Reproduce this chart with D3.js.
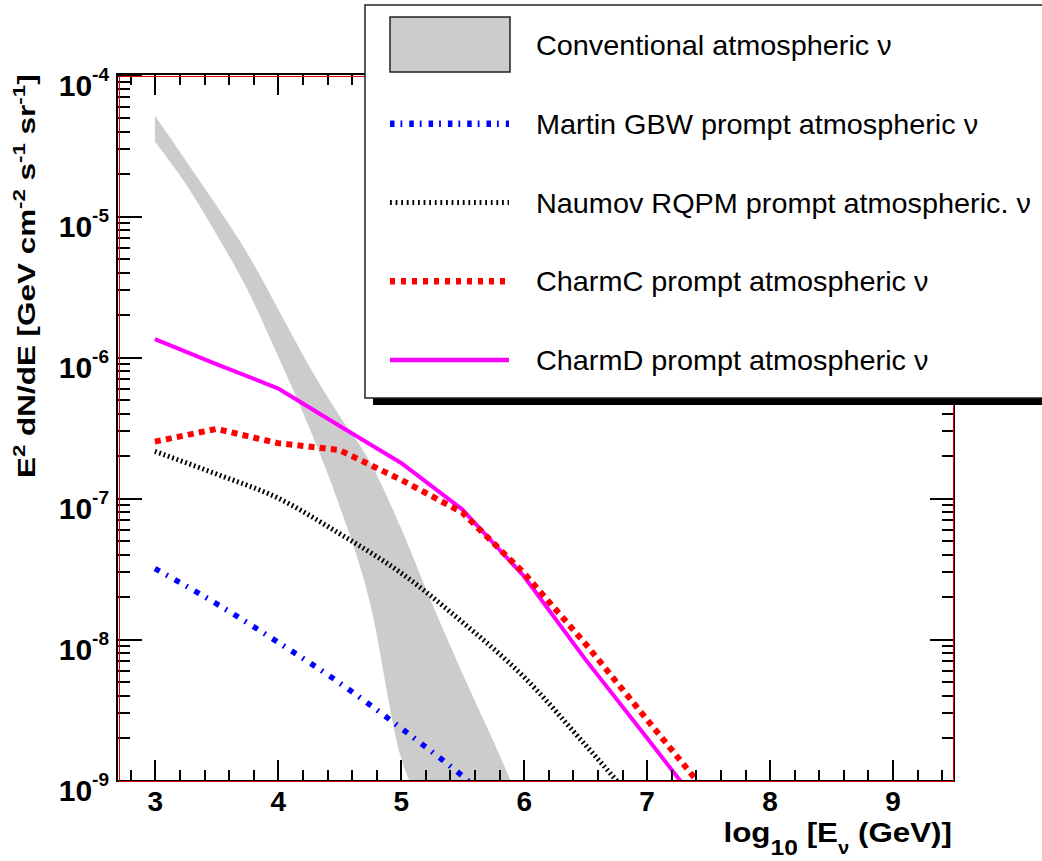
<!DOCTYPE html>
<html>
<head>
<meta charset="utf-8">
<script src="https://cdn.jsdelivr.net/npm/d3@7"></script>
<style>
  html, body { margin: 0; padding: 0; background: #fff; }
  svg { display: block; }
  text { font-family: "Liberation Sans", Arial, Helvetica, sans-serif; white-space: pre; }
  .axes line { shape-rendering: crispEdges; }
</style>
</head>
<body>
<svg id="chart" width="1042" height="861"></svg>
<script>
// Energy grid (log10 E / GeV) for the conventional band edges
const convEnergy = [3.0, 3.25, 3.5, 3.75, 4.0, 4.25, 4.5, 4.75, 5.0, 5.25, 5.5, 5.75, 6.0];
const convUpper  = [5.16e-5, 2.49e-5, 1.19e-5, 5.47e-6, 2.21e-6, 8.77e-7, 3.84e-7, 1.80e-7, 6.17e-8, 1.82e-8, 5.75e-9, 1.91e-9, 6.0e-10];
const convLower  = [3.37e-5, 1.69e-5, 7.43e-6, 3.03e-6, 1.02e-6, 3.24e-7, 8.87e-8, 1.80e-8, 1.46e-9, 5.6e-10, 2.5e-10, 1.1e-10, 5.0e-11];

// Energy grid (log10 E / GeV) for the prompt flux models
const promptEnergy = [3.0, 3.5, 4.0, 4.5, 5.0, 5.5, 6.0, 6.5, 7.0, 7.5];
const martinGBW   = [3.16e-8, 1.78e-8, 9.5e-9, 4.9e-9, 2.34e-9, 1.07e-9, 4.5e-10];
const naumovRQPM  = [2.14e-7, 1.48e-7, 1.0e-7, 5.6e-8, 2.95e-8, 1.32e-8, 5.4e-9, 1.78e-9, 5.6e-10];
const charmC      = [2.51e-7, 3.09e-7, 2.45e-7, 2.19e-7, 1.35e-7, 7.9e-8, 2.95e-8, 9.3e-9, 2.7e-9, 7.9e-10];
const charmD      = [1.34e-6, 8.9e-7, 6.0e-7, 3.25e-7, 1.78e-7, 8.3e-8, 2.8e-8, 7.2e-9, 2.0e-9, 5.5e-10];

// Axis ticks and labels
const xTickValues = [3, 4, 5, 6, 7, 8, 9];
const xTickLabels = ["3", "4", "5", "6", "7", "8", "9"];
const yTickValues = [1e-4, 1e-5, 1e-6, 1e-7, 1e-8, 1e-9];
const yTickExponents = ["-4", "-5", "-6", "-7", "-8", "-9"];

const legendLabels = [
  "Conventional atmospheric \u03bd",
  "Martin GBW prompt atmospheric \u03bd",
  "Naumov RQPM prompt atmospheric. \u03bd",
  "CharmC prompt atmospheric \u03bd",
  "CharmD prompt atmospheric \u03bd"
];

const svg = d3.select("#chart");
const frameL = 118, frameR = 954, frameT = 75, frameB = 780;

const x = d3.scaleLinear().domain([2.7, 9.5]).range([frameL, frameR]);
const y = d3.scaleLog().domain([1e-9, 1e-4]).range([frameB, frameT]);

svg.append("defs").append("clipPath").attr("id", "plotClip")
  .append("rect").attr("x", frameL).attr("y", frameT)
  .attr("width", frameR - frameL).attr("height", frameB - frameT);

const plot = svg.append("g").attr("clip-path", "url(#plotClip)");

// Conventional atmospheric band
const band = convEnergy.map((e, i) => ({ e, lo: convLower[i], hi: convUpper[i] }));
plot.append("path")
  .datum(band)
  .attr("d", d3.area().x(d => x(d.e)).y0(d => y(d.lo)).y1(d => y(d.hi)).curve(d3.curveMonotoneX))
  .attr("fill", "#cccccc")
  .attr("stroke", "none");

function series(values) {
  return values.map((v, i) => ({ e: promptEnergy[i], v }));
}
const smooth = d3.line().x(d => x(d.e)).y(d => y(d.v)).curve(d3.curveMonotoneX);
const straight = d3.line().x(d => x(d.e)).y(d => y(d.v));

const styles = [
  { data: martinGBW,  color: "#0000ff", width: 5.5, dash: "5.5,7.5,1.8,8", gen: smooth,   lw: 6.5, ldash: "4.5,6,1.8,7" },
  { data: naumovRQPM, color: "#000000", width: 5,   dash: "1.8,2.8",       gen: smooth,   lw: 5,   ldash: "1.8,3.8" },
  { data: charmD,     color: "#ff00ff", width: 4,   dash: null,            gen: straight, lw: 4.5, ldash: null },
  { data: charmC,     color: "#ff0000", width: 6,   dash: "6,5.2",         gen: straight, lw: 6.5, ldash: "5,6" }
];

styles.forEach(s => {
  plot.append("path")
    .datum(series(s.data))
    .attr("d", s.gen)
    .attr("fill", "none")
    .attr("stroke", s.color)
    .attr("stroke-width", s.width)
    .attr("stroke-dasharray", s.dash)
    .attr("stroke-linecap", "butt")
    .attr("stroke-linejoin", "round");
});

// Axes: ticks on all four sides, pointing inwards
const tickStyle = g => {
  g.select(".domain").remove();
  g.selectAll(".tick line")
    .attr("stroke", "#000000")
    .attr("stroke-width", 2);
};

const xMinor = d3.range(2.8, 9.5, 0.2).filter(v => Math.abs(v - Math.round(v)) > 1e-6);
const yMinor = [];
for (let p = -9; p < -4; p++) for (let k = 2; k <= 9; k++) yMinor.push(k * Math.pow(10, p));

const axes = svg.append("g").attr("class", "axes");

// bottom
axes.append("g").attr("transform", `translate(0,${frameB})`)
  .call(d3.axisBottom(x).tickValues(xMinor).tickSizeInner(-10).tickSizeOuter(0).tickFormat(""))
  .call(tickStyle);
const xAxis = axes.append("g").attr("transform", `translate(0,${frameB})`)
  .call(d3.axisBottom(x).tickValues(xTickValues).tickSizeInner(-20).tickSizeOuter(0).tickPadding(11)
    .tickFormat((d, i) => xTickLabels[i]))
  .call(tickStyle);
xAxis.selectAll("text")
  .attr("font-size", 28).attr("font-weight", "bold").attr("fill", "#000")
  .attr("font-family", "Liberation Sans, Arial, sans-serif");

// top
axes.append("g").attr("transform", `translate(0,${frameT})`)
  .call(d3.axisTop(x).tickValues(xMinor).tickSizeInner(-10).tickSizeOuter(0).tickFormat(""))
  .call(tickStyle);
axes.append("g").attr("transform", `translate(0,${frameT})`)
  .call(d3.axisTop(x).tickValues(xTickValues).tickSizeInner(-20).tickSizeOuter(0).tickFormat(""))
  .call(tickStyle);

// left
axes.append("g").attr("transform", `translate(${frameL},0)`)
  .call(d3.axisLeft(y).tickValues(yMinor).tickSizeInner(-12).tickSizeOuter(0).tickFormat(""))
  .call(tickStyle);
const yAxis = axes.append("g").attr("transform", `translate(${frameL},0)`)
  .call(d3.axisLeft(y).tickValues(yTickValues).tickSizeInner(-24).tickSizeOuter(0).tickFormat(""))
  .call(tickStyle);
yAxis.selectAll(".tick").each(function (d, i) {
  const t = d3.select(this).append("text")
    .attr("x", -9).attr("y", 20)
    .attr("text-anchor", "end")
    .attr("font-weight", "bold").attr("fill", "#000")
    .attr("font-size", 30);
  t.append("tspan").text("10");
  t.append("tspan").attr("font-size", 19).attr("dy", -15).text(yTickExponents[i]);
});

// right
axes.append("g").attr("transform", `translate(${frameR},0)`)
  .call(d3.axisRight(y).tickValues(yMinor).tickSizeInner(-12).tickSizeOuter(0).tickFormat(""))
  .call(tickStyle);
axes.append("g").attr("transform", `translate(${frameR},0)`)
  .call(d3.axisRight(y).tickValues(yTickValues).tickSizeInner(-24).tickSizeOuter(0).tickFormat(""))
  .call(tickStyle);

// frame: black outline with a thin red inner edge
const frame = svg.append("g").attr("shape-rendering", "crispEdges");
frame.append("rect").attr("x", frameL - 1).attr("y", frameT - 1)
  .attr("width", frameR - frameL + 1).attr("height", frameB - frameT + 2)
  .attr("fill", "none").attr("stroke", "#000000").attr("stroke-width", 2);
frame.append("rect").attr("x", frameL + 1).attr("y", frameT + 1)
  .attr("width", frameR - frameL - 2).attr("height", frameB - frameT)
  .attr("fill", "none").attr("stroke", "#e00000").attr("stroke-width", 1);

// axis titles
const xTitle = svg.append("text")
  .attr("transform", "translate(952,842) scale(1.12,1)")
  .attr("text-anchor", "end").attr("font-weight", "bold").attr("font-size", 28).attr("fill", "#000");
xTitle.append("tspan").text("log");
xTitle.append("tspan").attr("dy", 13).attr("font-size", 22).text("10");
xTitle.append("tspan").attr("dy", -13).text(" [E");
xTitle.append("tspan").attr("dy", 12).attr("font-size", 18).text("\u03bd");
xTitle.append("tspan").attr("dy", -12).text(" (GeV)]");

const yTitle = svg.append("text")
  .attr("transform", "translate(35,478) rotate(-90) scale(1.31,1)")
  .attr("font-weight", "bold").attr("font-size", 24).attr("fill", "#000");
const yParts = [["E", 0, 24], ["2", -10, 17], [" dN/dE [GeV cm", 10, 24], ["-2", -10, 17],
                [" s", 10, 24], ["-1", -10, 17], [" sr", 10, 24], ["-1", -10, 17], ["]", 10, 24]];
yParts.forEach(([txt, dy, fs]) => yTitle.append("tspan").attr("dy", dy).attr("font-size", fs).text(txt));

// legend
const lg = svg.append("g");
lg.append("rect").attr("x", 373).attr("y", 12).attr("width", 720).attr("height", 393).attr("fill", "#000");
lg.append("rect").attr("x", 365).attr("y", 5).attr("width", 720).attr("height", 393)
  .attr("fill", "#fff").attr("stroke", "#222").attr("stroke-width", 1.5);

const ly = d3.scaleLinear().domain([0, 4]).range([45, 360]);
lg.append("rect").attr("x", 390).attr("y", 17).attr("width", 120).attr("height", 55)
  .attr("fill", "#cccccc").attr("stroke", "#222").attr("stroke-width", 1.5);
[styles[0], styles[1], styles[3], styles[2]].forEach((s, i) => {
  lg.append("line")
    .attr("x1", 390).attr("x2", 509)
    .attr("y1", ly(i + 1)).attr("y2", ly(i + 1))
    .attr("stroke", s.color).attr("stroke-width", s.lw)
    .attr("stroke-dasharray", s.ldash);
});
legendLabels.forEach((label, i) => {
  lg.append("text")
    .attr("transform", `translate(536,${ly(i) + 10}) scale(1.03,1)`)
    .attr("font-size", 28).attr("fill", "#000")
    .text(label);
});
</script>
</body>
</html>
